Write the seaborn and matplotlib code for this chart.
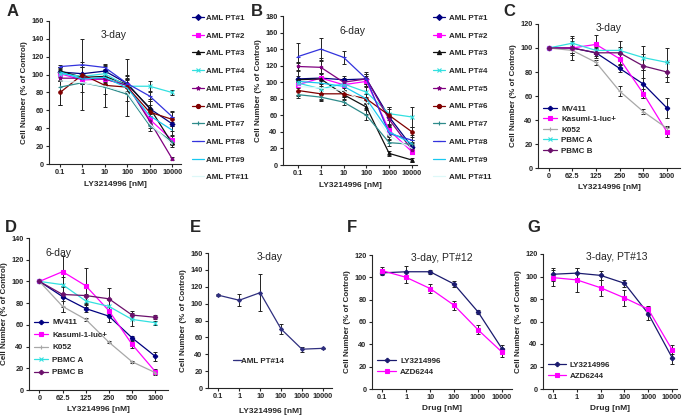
import numpy as np
import pandas as pd
import seaborn as sns
import matplotlib.pyplot as plt
from matplotlib.lines import Line2D

# ---------------- data ----------------
conc_log = [0.1, 1, 10, 100, 1000, 10000]
conc_lbl = ["0.1", "1", "10", "100", "1000", "10000"]
doses_cl = ["0", "62.5", "125", "250", "500", "1000"]

aml_names = ["AML PT#1", "AML PT#2", "AML PT#3", "AML PT#4", "AML PT#5",
             "AML PT#6", "AML PT#7", "AML PT#8", "AML PT#9", "AML PT#11"]
aml_colors = ["#000080", "#FF00FF", "#111111", "#33E0E0", "#800080",
              "#800000", "#2E8B8B", "#3333DD", "#19C8F0", "#DDF8F8"]
aml_markers = ["D", "s", "^", "x", "*", "o", "+", "_", None, None]

# panel A, 3-day
a_vals = [[103, 101, 104, 90, 62, 45],
          [101, 94, 95, 88, 50, 27],
          [104, 97, 98, 89, 63, 23],
          [101, 98, 101, 87, 87, 80],
          [96, 96, 95, 88, 48, 6],
          [80, 100, 88, 86, 58, 50],
          [86, 91, 86, 78, 43, 25],
          [109, 111, 108, 90, 76, 53],
          [103, 95, 97, 85, 54, 38],
          [93, 91, 87, 80, 45, 22]]
a_err = [[5, 8, 6, 10, 8, 8],
         [3, 4, 4, 6, 6, 4],
         [4, 5, 8, 10, 10, 4],
         [4, 4, 4, 8, 6, 3],
         [3, 5, 5, 8, 8, 2],
         [14, 40, 24, 32, 8, 8],
         [20, 10, 8, 8, 6, 3],
         [2, 3, 3, 5, 6, 6],
         [5, 5, 5, 6, 8, 5],
         [0, 0, 0, 0, 0, 0]]

# panel B, 6-day
b_vals = [[104, 105, 103, 104, 58, 22],
          [97, 105, 97, 101, 42, 16],
          [103, 104, 85, 70, 14, 6],
          [99, 92, 98, 88, 62, 58],
          [119, 118, 100, 104, 55, 18],
          [90, 86, 86, 80, 60, 40],
          [85, 82, 76, 60, 27, 25],
          [131, 140, 130, 104, 38, 30],
          [101, 99, 95, 80, 40, 26],
          [95, 93, 90, 75, 35, 20]]
b_err = [[4, 6, 4, 6, 10, 4],
         [4, 6, 4, 6, 6, 3],
         [20, 25, 6, 8, 3, 2],
         [4, 6, 4, 6, 8, 12],
         [6, 8, 5, 6, 8, 4],
         [6, 6, 4, 6, 10, 6],
         [4, 5, 4, 6, 4, 3],
         [16, 13, 8, 8, 8, 6],
         [4, 4, 4, 6, 6, 4],
         [0, 0, 0, 0, 0, 0]]

cl_names = ["MV411", "Kasumi-1-luc+", "K052", "PBMC A", "PBMC B"]
cl_colors = ["#000080", "#FF00FF", "#A8A8A8", "#33E0E0", "#6B0F6B"]
cl_markers = ["P", "s", "+", "x", "P"]

# panel C, 3-day
c_vals = [[100, 100, 96, 83, 70, 50],
          [100, 100, 103, 91, 62, 30],
          [100, 98, 88, 64, 47, 33],
          [100, 104, 98, 98, 92, 88],
          [100, 100, 96, 96, 85, 80]]
c_err = [[1, 10, 4, 3, 12, 8],
         [1, 4, 8, 4, 4, 4],
         [1, 2, 2, 4, 2, 2],
         [1, 4, 3, 3, 10, 12],
         [1, 6, 3, 10, 10, 8]]

# panel D, 6-day
d_vals = [[100, 86, 75, 68, 48, 31],
          [100, 109, 96, 73, 42, 17],
          [100, 77, 65, 44, 26, 16],
          [100, 97, 82, 77, 65, 62],
          [100, 88, 87, 84, 69, 67]]
d_err = [[1, 10, 3, 5, 2, 4],
         [1, 14, 16, 3, 3, 2],
         [1, 5, 1, 1, 1, 2],
         [1, 12, 6, 6, 6, 2],
         [1, 16, 8, 10, 4, 2]]

# panel E, 3-day, PT#14
e_vals = [110, 104, 113, 70, 46, 47]
e_err = [1, 7, 22, 6, 3, 1]

drug_names = ["LY3214996", "AZD6244"]
drug_colors = ["#1A1A6E", "#FF00FF"]
drug_markers = ["P", "s"]
f_vals = [[104, 105, 105, 94, 69, 36],
          [106, 100, 90, 75, 53, 33]]
f_err = [[2, 5, 2, 3, 2, 3],
         [3, 5, 4, 4, 4, 4]]
g_vals = [[102, 103, 101, 94, 67, 28],
          [99, 97, 90, 81, 71, 35]]
g_err = [[6, 5, 4, 3, 6, 6],
         [7, 11, 7, 7, 3, 4]]

# ---------------- style ----------------
sns.set_style("ticks")
plt.rcParams["font.family"] = ["Liberation Sans", "DejaVu Sans"]
plt.rcParams["font.size"] = 5.3
plt.rcParams["axes.linewidth"] = 0.8
plt.rcParams["xtick.major.width"] = 0.8
plt.rcParams["ytick.major.width"] = 0.8
plt.rcParams["xtick.major.size"] = 2
plt.rcParams["ytick.major.size"] = 2.5
plt.rcParams["xtick.major.pad"] = 1.5
plt.rcParams["ytick.major.pad"] = 1.5
plt.rcParams["xtick.labelsize"] = 5.3
plt.rcParams["ytick.labelsize"] = 5.3

W, H = 685, 415
fig = plt.figure(figsize=(W / 100, H / 100), dpi=100)

LEG = {"weight": "bold", "size": 5.8}


def add_ax(l, t, r, b):
    return fig.add_axes([l / W, 1 - b / H, (r - l) / W, (b - t) / H])


def draw_series(ax, x, vals, errs, names, colors, markers, ms=3):
    for v, e, n, c, m in zip(vals, errs, names, colors, markers):
        df = pd.DataFrame({"x": x, "y": v})
        ax.errorbar(x, v, yerr=e, fmt="none", ecolor="#222222",
                    elinewidth=0.7, capsize=1.3, capthick=0.7, zorder=1)
        sns.lineplot(data=df, x="x", y="y", ax=ax, color=c, lw=0.9,
                     marker=m, markersize=ms, markeredgecolor=c,
                     markeredgewidth=0.8, label=n, legend=False, zorder=2)


def style_ax(ax, ymax, title, tx, ty, xlabel="LY3214996 [nM]", xpad=3):
    sns.despine(ax=ax)
    ax.set_ylim(0, ymax)
    ax.set_yticks(np.arange(0, ymax + 1, 20))
    ax.set_ylabel("Cell Number (% of Control)", fontsize=5.8,
                  fontweight="bold", labelpad=2)
    ax.set_xlabel(xlabel, fontsize=6, fontweight="bold", labelpad=xpad)
    ax.text(tx, ty, title, transform=ax.transAxes, ha="center",
            va="center", fontsize=7.5)
    for lab in ax.get_xticklabels() + ax.get_yticklabels():
        lab.set_fontweight("bold")


def log_x(ax, lo, hi):
    ax.set_xscale("log")
    ax.set_xlim(lo, hi)
    ax.set_xticks(conc_log)
    ax.set_xticklabels(conc_lbl)
    ax.minorticks_off()


def cat_x(ax):
    pos = np.arange(len(doses_cl))
    ax.set_xlim(-0.45, len(doses_cl) - 0.45)
    ax.set_xticks(pos)
    ax.set_xticklabels(doses_cl)


def make_handles(colors, markers, lw=0.9):
    return [Line2D([0], [0], color=c, lw=lw, marker=m, markersize=3,
                   markeredgecolor=c, markeredgewidth=0.8)
            for c, m in zip(colors, markers)]


# ---------------- A ----------------
axA = add_ax(49, 21, 181, 164)
draw_series(axA, conc_log, a_vals, a_err, aml_names, aml_colors, aml_markers, ms=2.5)
log_x(axA, 0.032, 25000)
style_ax(axA, 160, "3-day", 0.49, 0.9, xpad=4)
fig.legend(make_handles(aml_colors, aml_markers), aml_names,
           loc="upper left", bbox_to_anchor=(185 / W, 1 - 7 / H),
           frameon=False, prop=LEG,
           handlelength=1.5, handletextpad=0.2, labelspacing=1.25)

# ---------------- B ----------------
axB = add_ax(283, 16, 417, 165)
draw_series(axB, conc_log, b_vals, b_err, aml_names, aml_colors, aml_markers, ms=2.5)
log_x(axB, 0.022, 16600)
style_ax(axB, 180, "6-day", 0.52, 0.9, xpad=4)
fig.legend(make_handles(aml_colors, aml_markers), aml_names,
           loc="upper left", bbox_to_anchor=(426 / W, 1 - 7 / H),
           frameon=False, prop=LEG,
           handlelength=1.5, handletextpad=0.5, labelspacing=1.25)

# ---------------- C ----------------
axC = add_ax(538, 24, 680, 168)
draw_series(axC, np.arange(len(doses_cl)), c_vals, c_err, cl_names,
            cl_colors, cl_markers)
cat_x(axC)
style_ax(axC, 120, "3-day", 0.5, 0.97)
axC.legend(make_handles(cl_colors, cl_markers), cl_names,
           loc="upper left", bbox_to_anchor=(0.0, 0.47), frameon=False,
           prop=LEG, handlelength=1.8,
           handletextpad=0.5, labelspacing=0.35, borderaxespad=0.2)

# ---------------- D ----------------
axD = add_ax(29, 238, 168, 390)
draw_series(axD, np.arange(len(doses_cl)), d_vals, d_err, cl_names,
            cl_colors, cl_markers)
cat_x(axD)
style_ax(axD, 140, "6-day", 0.21, 0.9)
axD.legend(make_handles(cl_colors, cl_markers), cl_names,
           loc="upper left", bbox_to_anchor=(0.0, 0.5), frameon=False,
           prop=LEG, handlelength=1.8,
           handletextpad=0.5, labelspacing=0.6, borderaxespad=0.2)

# ---------------- E ----------------
axE = add_ax(208, 253, 332, 388)
draw_series(axE, conc_log, [e_vals], [e_err], ["AML PT#14"], ["#2F2F7F"], ["D"], ms=2)
log_x(axE, 0.032, 27500)
style_ax(axE, 160, "3-day", 0.5, 0.97, xpad=6)
axE.legend(make_handles(["#2F2F7F"], ["_"]), ["AML PT#14"],
           loc="center left", bbox_to_anchor=(0.14, 0.2), frameon=False,
           prop=LEG, handlelength=1.0, handletextpad=0.1)

# ---------------- F ----------------
axF = add_ax(372, 255, 512, 389)
draw_series(axF, conc_log, f_vals, f_err, drug_names, drug_colors, drug_markers)
log_x(axF, 0.038, 26000)
style_ax(axF, 120, "3-day, PT#12", 0.5, 0.98, xlabel="Drug [nM]")
axF.legend(make_handles(drug_colors, drug_markers), drug_names,
           loc="upper left", bbox_to_anchor=(0.0, 0.27), frameon=False,
           prop=LEG, handlelength=2.4,
           handletextpad=0.5, labelspacing=0.4, borderaxespad=0.2)

# ---------------- G ----------------
axG = add_ax(543, 254, 677, 389)
draw_series(axG, conc_log, g_vals, g_err, drug_names, drug_colors, drug_markers)
log_x(axG, 0.038, 16200)
style_ax(axG, 120, "3-day, PT#13", 0.55, 0.98, xlabel="Drug [nM]")
axG.legend(make_handles(drug_colors, drug_markers), drug_names,
           loc="upper left", bbox_to_anchor=(0.0, 0.24), frameon=False,
           prop=LEG, handlelength=2.2,
           handletextpad=0.5, labelspacing=0.4, borderaxespad=0.2)

# panel letters
for letter, x, y in [("A", 7, 4), ("B", 251, 4), ("C", 503, 4),
                     ("D", 5, 220), ("E", 190, 220), ("F", 347, 220),
                     ("G", 527, 220)]:
    fig.text(x / W, 1 - y / H, letter, fontsize=12, fontweight="bold",
             ha="left", va="top")

fig.savefig("out.png", dpi=100)
